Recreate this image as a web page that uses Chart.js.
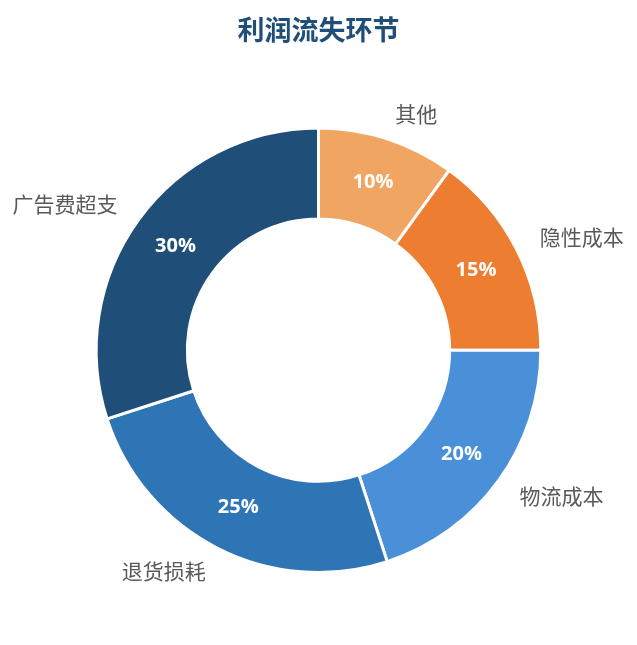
<!DOCTYPE html>
<html>
<head>
<meta charset="utf-8">
<script src="https://cdn.jsdelivr.net/npm/chart.js@4.4.0/dist/chart.umd.min.js"></script>
<style>
    html, body { margin: 0; padding: 0; background: #fff; }
    #wrap { width: 637px; height: 645px; }
</style>
</head>
<body>
<div id="wrap"><canvas id="lossChart"></canvas></div>
<script>
var categories = ['其他', '隐性成本', '物流成本', '退货损耗', '广告费超支'];
var shares = [10, 15, 20, 25, 30];
var colors = ['#F0A562', '#ED7D31', '#4A90D9', '#2E75B6', '#1F4E79'];

// draws the percentage inside each slice and the name outside it
var sliceLabels = {
    id: 'sliceLabels',
    afterDatasetsDraw: function (chart) {
        var ctx = chart.ctx;
        var meta = chart.getDatasetMeta(0);
        ctx.save();
        meta.data.forEach(function (arc, i) {
            var mid = (arc.startAngle + arc.endAngle) / 2;
            var midR = (arc.innerRadius + arc.outerRadius) / 2;
            ctx.fillStyle = '#fff';
            ctx.font = 'bold 20px "Open Sans", "Noto Sans CJK SC", sans-serif';
            ctx.textAlign = 'center';
            ctx.textBaseline = 'middle';
            ctx.fillText(shares[i] + '%', arc.x + Math.cos(mid) * midR, arc.y + Math.sin(mid) * midR);

            var outR = arc.outerRadius + 26;
            var lx = arc.x + Math.cos(mid) * outR;
            var ly = arc.y + Math.sin(mid) * outR;
            ctx.fillStyle = '#595959';
            ctx.font = '21px "Noto Sans CJK SC", sans-serif';
            ctx.textAlign = Math.cos(mid) >= 0 ? 'left' : 'right';
            ctx.fillText(categories[i], lx, ly);
        });
        ctx.restore();
    }
};

new Chart(document.getElementById('lossChart'), {
    type: 'doughnut',
    data: {
        labels: categories,
        datasets: [{
            data: shares,
            backgroundColor: colors,
            hoverBackgroundColor: colors,
            borderColor: '#fff',
            borderWidth: 3
        }]
    },
    options: {
        responsive: true,
        maintainAspectRatio: false,
        animation: false,
        cutout: '59%',
        layout: { padding: { top: 0, bottom: 71, left: 60, right: 60 } },
        plugins: {
            legend: { display: false },
            tooltip: { enabled: false },
            title: {
                display: true,
                text: '利润流失环节',
                color: '#1F4E79',
                font: { size: 27, weight: 'bold', family: '"Noto Sans CJK SC", sans-serif' },
                padding: { top: 14, bottom: 80 }
            }
        }
    },
    plugins: [sliceLabels]
});
</script>
</body>
</html>
